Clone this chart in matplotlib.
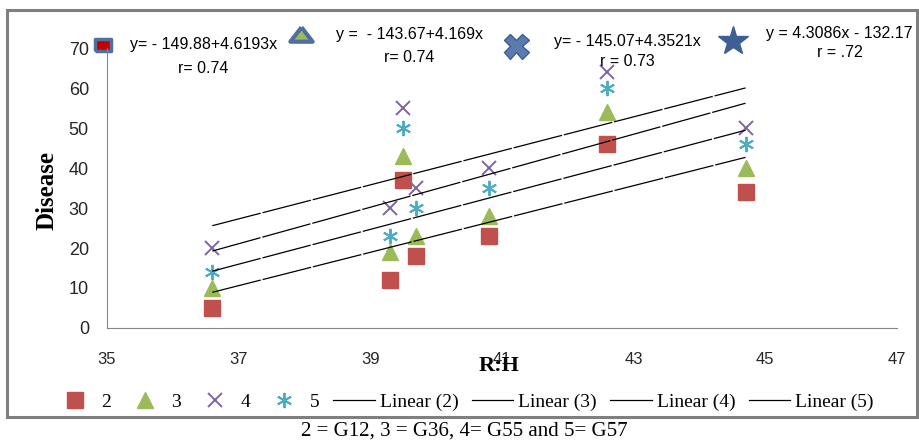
import matplotlib.pyplot as plt
import numpy as np
from matplotlib.patches import Rectangle
from matplotlib.lines import Line2D

# relative humidity values (shared by all four series)
rh = [36.6, 39.3, 39.5, 39.7, 40.8, 42.6, 44.7]

series_names = ['2', '3', '4', '5']
disease_2 = [5, 12, 37, 18, 23, 46, 34]
disease_3 = [10, 19, 43, 23, 28, 54, 40]
disease_4 = [20, 30, 55, 35, 40, 64, 50]
disease_5 = [14, 23, 50, 30, 35, 60, 46]

eq_lines = ['y= - 149.88+4.6193x', 'y =  - 143.67+4.169x',
            'y= - 145.07+4.3521x', 'y = 4.3086x - 132.17']
r_lines = ['r= 0.74', 'r= 0.74', 'r = 0.73', 'r = .72']
caption = '2 = G12, 3 = G36, 4= G55 and 5= G57'

fig = plt.figure(figsize=(9.19, 4.42), dpi=100)
ax = fig.add_axes([0.1164, 0.258, 0.8596, 0.633])

red = '#C0504D'
green = '#9BBB59'
purple = '#8064A2'
cyan = '#4BACC6'
edge = '#4F6FA0'
asterisk = (6, 2, 0)

h2, = ax.plot(rh, disease_2, 's', color=red, markersize=11, linestyle='none', label='2')
h3, = ax.plot(rh, disease_3, '^', color=green, markersize=11, linestyle='none', label='3')
h4, = ax.plot(rh, disease_4, 'x', color=purple, markersize=10, mew=1.4, linestyle='none', label='4')
h5, = ax.plot(rh, disease_5, marker=asterisk, color=cyan, markersize=11, mew=1.4,
              linestyle='none', label='5')

trend_handles = []
xs = np.array([min(rh), max(rh)])
for name, vals in zip(series_names, [disease_2, disease_3, disease_4, disease_5]):
    k, b = np.polyfit(rh, vals, 1)
    ax.plot(xs, k * xs + b, color='black', lw=0.9, dashes=(40, 1.5))
    trend_handles.append(Line2D([], [], color='black', lw=0.9, label='Linear (%s)' % name))

ax.set_xlim(35, 47)
ax.set_ylim(0, 70)
ax.set_xticks(np.arange(35, 48, 2))
ax.set_yticks(np.arange(0, 71, 10))
ax.tick_params(length=0)
ax.tick_params(axis='x', pad=17, labelsize=12)
ax.tick_params(axis='y', pad=13, labelsize=13)
for lab in ax.get_xticklabels() + ax.get_yticklabels():
    lab.set_family('Liberation Sans')
    lab.set_color('#262626')
ax.spines['top'].set_visible(False)
ax.spines['right'].set_visible(False)
ax.spines['left'].set_color('#868686')
ax.spines['bottom'].set_color('#868686')

fig.text(0.543, 0.172, 'R:H', family='Liberation Serif', fontweight='bold', fontsize=16,
         ha='center', va='center')
fig.text(0.051, 0.57, 'Disease', family='Liberation Serif', fontweight='bold', fontsize=18,
         rotation=90, ha='center', va='center')

# equation icons and texts along the top
tf = fig.transFigure
rect_mk = [(-1.45, -1), (1.45, -1), (1.45, 1), (-1.45, 1), (-1.45, -1)]
tri_mk = [(0, 0.65), (-1, -0.65), (1, -0.65), (0, 0.65)]
ax.plot([0.112], [0.898], marker=rect_mk, markersize=12, color='#C00000', mec=edge, mew=2.5,
        transform=tf, clip_on=False)
ax.plot([0.327], [0.922], marker=tri_mk, markersize=16, color=green, mec=edge, mew=3,
        transform=tf, clip_on=False)
ax.plot([0.561], [0.896], 'X', markersize=18, color='#5B7BAE', mec='#3E5F94', mew=1,
        transform=tf, clip_on=False)
ax.plot([0.798], [0.907], '*', markersize=22, color='#3E5F94',
        transform=tf, clip_on=False)

eq_xy = [(0.221, 0.900), (0.446, 0.921), (0.683, 0.905), (0.913, 0.925)]
r_xy = [(0.221, 0.844), (0.445, 0.869), (0.683, 0.860), (0.914, 0.882)]
for (x, y), txt in zip(eq_xy, eq_lines):
    fig.text(x, y, txt, ha='center', va='center', fontsize=11.5, family='Liberation Sans')
for (x, y), txt in zip(r_xy, r_lines):
    fig.text(x, y, txt, ha='center', va='center', fontsize=11.5, family='Liberation Sans')

fig.legend(handles=[h2, h3, h4, h5] + trend_handles, loc='center', ncol=8,
           bbox_to_anchor=(0.505, 0.09), frameon=False, handlelength=2.15,
           handletextpad=0.25, columnspacing=0.68,
           prop={'family': 'Liberation Serif', 'size': 14})

fig.add_artist(Rectangle((0.008, 0.057), 0.99, 0.92, transform=tf, fill=False,
                         edgecolor='#7F7F7F', lw=2.2))
fig.text(0.505, 0.024, caption, ha='center', va='center', family='Liberation Serif', fontsize=15)

plt.savefig('out.png', dpi=100)
